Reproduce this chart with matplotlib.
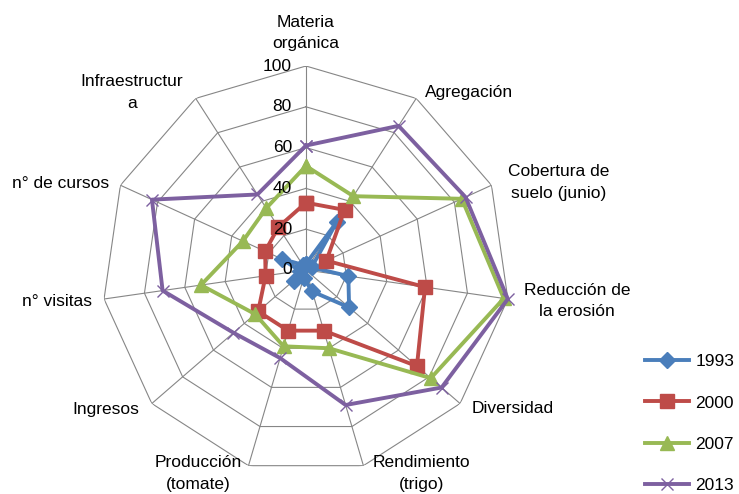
import numpy as np
import matplotlib
matplotlib.use('Agg')
import matplotlib.pyplot as plt
from matplotlib.transforms import offset_copy

# Ejes del radar (en el sentido de las agujas del reloj, desde arriba)
categorias = ['Materia\norgánica', 'Agregación', 'Cobertura de\nsuelo (junio)',
              'Reducción de\nla erosión', 'Diversidad', 'Rendimiento\n(trigo)',
              'Producción\n(tomate)', 'Ingresos', 'n° visitas', 'n° de cursos',
              'Infraestructur\na']

anios = ['1993', '2000', '2007', '2013']
v1993 = [3, 28, 3, 21, 28, 11, 4, 8, 3, 13, 3]
v2000 = [33, 35, 11, 59, 72, 31, 31, 31, 20, 22, 25]
v2007 = [51, 43, 84, 98, 81, 40, 39, 33, 52, 34, 36]
v2013 = [61, 84, 86, 100, 88, 69, 45, 47, 71, 83, 44]

niveles = [0, 20, 40, 60, 80, 100]

plt.rcParams['font.family'] = ['Liberation Sans', 'DejaVu Sans']
plt.rcParams['font.size'] = 12.5

fig = plt.figure(figsize=(7.39, 4.94), dpi=100)
ax = fig.add_axes([0.138, 0.0405, 0.552, 0.826], projection='polar')
ax.set_theta_zero_location('N')
ax.set_theta_direction(-1)
ax.set_ylim(0, 100)
ax.grid(False)
ax.set_xticks([])
ax.set_yticks([])
ax.spines['polar'].set_visible(False)
ax.patch.set_alpha(0)

n = len(categorias)
ang = np.linspace(0, 2 * np.pi, n, endpoint=False)
ang_c = np.append(ang, ang[0])

# rejilla poligonal tipo Excel
gris = '#868686'
for r in niveles[1:]:
    ax.plot(ang_c, [r] * (n + 1), color=gris, lw=0.8, zorder=1)
for a in ang:
    ax.plot([a, a], [0, 100], color=gris, lw=0.8, zorder=1)

# etiquetas de la escala
tr = offset_copy(ax.transData, fig=fig, x=-14, y=0, units='dots')
for r in niveles:
    ax.text(0, r, str(r), transform=tr, ha='right', va='center', zorder=5)

# etiquetas de las categorías
desplaz = [(0, 33), (9, 6), (67, 3), (69, -2), (12, -5), (58, -8),
           (-50, -8), (-13, -6), (-12, -3), (-11, 2), (-64, 6)]
alin = ['center', 'left', 'center', 'center', 'left', 'center',
        'center', 'right', 'right', 'right', 'center']
for a, txt, d, h in zip(ang, categorias, desplaz, alin):
    ax.annotate(txt, xy=(a, 100), xytext=d, textcoords='offset pixels',
                ha=h, va='center', multialignment='center', linespacing=1.55,
                annotation_clip=False)

series = [v1993, v2000, v2007, v2013]
colores = ['#4A7EBB', '#BE4B48', '#98B954', '#7D60A0']
marcas = ['D', 's', '^', 'x']
tam = [8, 9.5, 10, 9]
for nombre, vals, c, m, s in zip(anios, series, colores, marcas, tam):
    vals_c = vals + vals[:1]
    ax.plot(ang_c, vals_c, color=c, lw=2.8, marker=m, markersize=s,
            markeredgewidth=1, label=nombre, zorder=3, clip_on=False)

fig.legend(loc='upper left', bbox_to_anchor=(0.873, 0.283), frameon=False,
           borderpad=0, borderaxespad=0, handlelength=2.53, handletextpad=0.35,
           labelspacing=1.5)

plt.savefig('out.png', dpi=100)
